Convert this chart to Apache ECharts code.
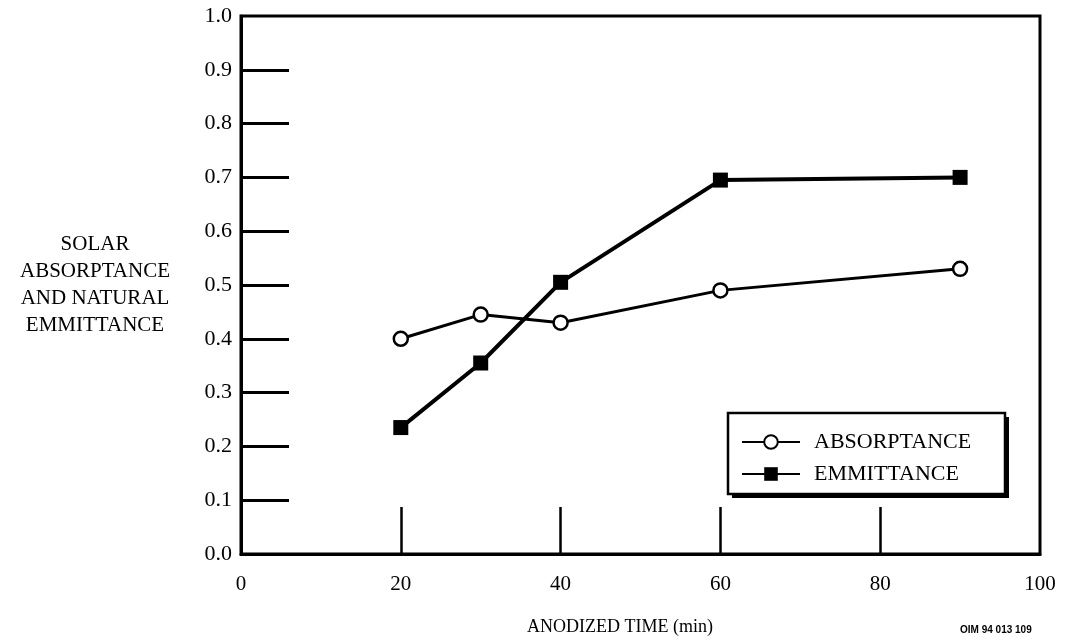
<!DOCTYPE html>
<html>
<head>
<meta charset="utf-8">
<script src="https://cdn.jsdelivr.net/npm/echarts@6/dist/echarts.min.js"></script>
<style>html,body{margin:0;padding:0;background:#fff}#c{width:1065px;height:640px}</style>
</head>
<body>
<div id="c"></div>
<script>
const anodizedTime = [20, 30, 40, 60, 90];
const absorptance = [0.40, 0.445, 0.43, 0.49, 0.53];
const emittance = [0.235, 0.355, 0.505, 0.695, 0.70];
const xTickValues = [20, 40, 60, 80];
const yTickValues = [0.1, 0.2, 0.3, 0.4, 0.5, 0.6, 0.7, 0.8, 0.9];
const yAxisTitle = 'SOLAR\nABSORPTANCE\nAND NATURAL\nEMMITTANCE';
const xAxisTitle = 'ANODIZED TIME (min)';
const seriesNames = ['ABSORPTANCE', 'EMMITTANCE'];
const figureId = 'OIM 94 013 109';

const serif = 'Liberation Serif';
const chart = echarts.init(document.getElementById('c'), null, {renderer: 'canvas'});
const pair = (xs, ys) => xs.map((x, i) => [x, ys[i]]);

chart.setOption({
  animation: false,
  backgroundColor: '#fff',
  grid: {left: 241, right: 25, top: 16, bottom: 86, show: true, borderColor: '#000', borderWidth: 3, backgroundColor: 'transparent'},
  xAxis: {
    type: 'value', min: 0, max: 100, interval: 20,
    axisLine: {show: true, lineStyle: {color: '#000', width: 3}},
    axisTick: {show: true, inside: true, length: 47, customValues: xTickValues, lineStyle: {color: '#000', width: 2.5}},
    axisLabel: {color: '#000', fontFamily: serif, fontSize: 21, margin: 20},
    splitLine: {show: false}
  },
  yAxis: {
    type: 'value', min: 0, max: 1, interval: 0.1,
    axisLine: {show: true, lineStyle: {color: '#000', width: 3}},
    axisTick: {show: true, inside: true, length: 48, customValues: yTickValues, lineStyle: {color: '#000', width: 3}},
    axisLabel: {color: '#000', fontFamily: serif, fontSize: 22, margin: 9, formatter: v => v.toFixed(1)},
    splitLine: {show: false},
    name: yAxisTitle, nameLocation: 'middle', nameRotate: 0, nameGap: 146,
    nameTextStyle: {color: '#000', fontFamily: serif, fontSize: 21, lineHeight: 27, align: 'center'}
  },
  legend: {
    left: 741, top: 431, orient: 'vertical',
    padding: 0, itemGap: 10, itemWidth: 58, itemHeight: 17,
    textStyle: {color: '#000', fontFamily: serif, fontSize: 22, padding: [0, 0, 0, 9]},
    data: seriesNames, z: 6
  },
  graphic: [
    {type: 'rect', z: 4, shape: {x: 732, y: 417, width: 277, height: 81}, style: {fill: '#000'}},
    {type: 'rect', z: 5, shape: {x: 728, y: 413, width: 277, height: 81}, style: {fill: '#fff', stroke: '#000', lineWidth: 2.5}},
    {type: 'text', left: 527, top: 618, style: {text: xAxisTitle, fill: '#000', font: '18px "Liberation Serif"'}},
    {type: 'text', left: 960, top: 625, style: {text: figureId, fill: '#000', font: 'bold 10px "Liberation Sans"'}}
  ],
  series: [
    {
      name: seriesNames[0], type: 'line', data: pair(anodizedTime, absorptance),
      symbol: 'circle', symbolSize: 14, showAllSymbol: true,
      lineStyle: {color: '#000', width: 3},
      itemStyle: {color: '#fff', borderColor: '#000', borderWidth: 2.5},
      z: 3
    },
    {
      name: seriesNames[1], type: 'line', data: pair(anodizedTime, emittance),
      symbol: 'rect', symbolSize: 15, showAllSymbol: true,
      lineStyle: {color: '#000', width: 4},
      itemStyle: {color: '#000', borderColor: '#000', borderWidth: 0},
      z: 3
    }
  ]
});
</script>
</body>
</html>
